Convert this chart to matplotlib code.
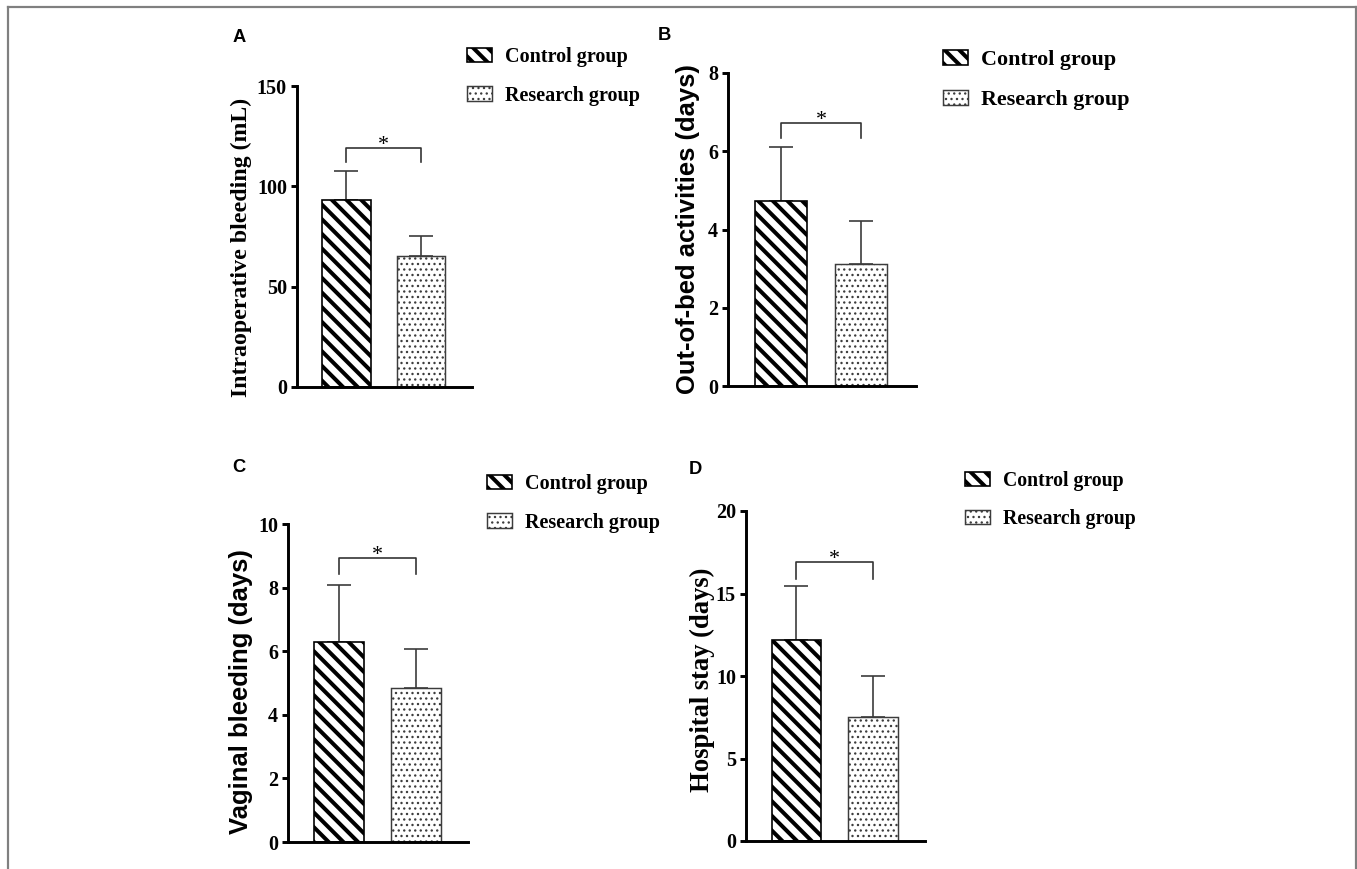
import matplotlib
matplotlib.use("Agg")
import matplotlib.pyplot as plt
from matplotlib.lines import Line2D

W, H = 1357, 869
DPI = 132

SERIF = "Liberation Serif"
SANS = "Liberation Sans"

groups = ["Control group", "Research group"]
hatches = ["\\\\\\", "...."]
hatch_widths = [2.2, 0.7]

# mean and SD per group
bleeding_mean = [93.2, 65.3]
bleeding_sd = [14.4, 9.9]
activity_mean = [4.73, 3.12]
activity_sd = [1.38, 1.10]
vaginal_mean = [6.29, 4.84]
vaginal_sd = [1.79, 1.23]
stay_mean = [12.18, 7.52]
stay_sd = [3.27, 2.48]

# significance bracket height and leg bottoms
bleeding_sig = [119, 112]
activity_sig = [6.72, 6.34]
vaginal_sig = [8.93, 8.43]
stay_sig = [16.9, 15.9]


def px_box(left, top, right, bottom):
    return [left / W, 1 - bottom / H, (right - left) / W, (bottom - top) / H]


def draw_panel(fig, box, means, sds, ymax, step, sig, ylabel, label_font,
               label_size, label_xy, letter, letter_xy, legend_xy, legend_size):
    ax = fig.add_axes(px_box(*box))
    x = [1, 2]

    with plt.rc_context({"hatch.linewidth": hatch_widths[0]}):
        ax.bar(x[0], means[0], 0.65, color="white", edgecolor="black",
               linewidth=0.9, hatch=hatches[0], label=groups[0], zorder=2)
    with plt.rc_context({"hatch.linewidth": hatch_widths[1]}):
        ax.bar(x[1], means[1], 0.65, color="white", edgecolor="#3c3c3c",
               linewidth=0.8, hatch=hatches[1], label=groups[1], zorder=2)

    # upper error bars only
    ax.errorbar(x, means, yerr=[[0, 0], sds], fmt="none", ecolor="#3a3a3a",
                elinewidth=0.9, capsize=6.3, capthick=0.9, zorder=1)

    # significance bracket
    ax.plot([1, 1, 2, 2], [sig[1], sig[0], sig[0], sig[1]],
            color="#333333", lw=0.9, clip_on=False)
    ax.annotate("*", xy=(1.5, sig[0]), xytext=(0, -1), textcoords="offset points",
                ha="center", va="baseline", fontfamily=SERIF, fontsize=12)

    ax.set_xlim(0.34, 2.68)
    ax.set_ylim(0, ymax)
    ax.set_yticks(range(0, ymax + 1, step))
    ax.set_xticks([])
    for side in ["top", "right"]:
        ax.spines[side].set_visible(False)
    for side in ["left", "bottom"]:
        ax.spines[side].set_linewidth(1.6)
    ax.tick_params(axis="y", length=3.5, width=1.6, pad=2)
    for lbl in ax.get_yticklabels():
        lbl.set_fontfamily(SERIF)
        lbl.set_fontweight("bold")
        lbl.set_fontsize(11)

    fig.text(label_xy[0] / W, 1 - label_xy[1] / H, ylabel, rotation=90,
             ha="center", va="center", fontfamily=label_font,
             fontweight="bold", fontsize=label_size)
    fig.text(letter_xy[0] / W, 1 - letter_xy[1] / H, letter, ha="center",
             va="center", fontfamily=SANS, fontweight="bold", fontsize=10)

    fs_px = legend_size * DPI / 72
    leg = ax.legend(loc="upper left", bbox_to_anchor=(legend_xy[0] / W, 1 - legend_xy[1] / H),
                    bbox_transform=fig.transFigure, frameon=False, borderpad=0,
                    borderaxespad=0, handlelength=25 / fs_px, handleheight=14 / fs_px,
                    handletextpad=13 / fs_px, labelspacing=0.92,
                    prop={"family": SERIF, "weight": "bold", "size": legend_size})
    # legend keys get the same stripe/dot weight as the bars
    for handle, lw in zip(leg.legend_handles, hatch_widths):
        if hasattr(handle, "set_hatch_linewidth"):
            handle.set_hatch_linewidth(lw)
    return ax


fig = plt.figure(figsize=(W / DPI, H / DPI), dpi=DPI)

draw_panel(fig, (297, 86, 472, 387), bleeding_mean, bleeding_sd, 150, 50,
           bleeding_sig, "Intraoperative bleeding (mL)", SERIF, 13, (241, 247),
           "A", (239, 38), (467, 47), 11)
draw_panel(fig, (728, 73, 916, 386), activity_mean, activity_sd, 8, 2,
           activity_sig, "Out-of-bed activities (days)", SANS, 14, (688, 229),
           "B", (664, 36), (943, 50), 12)
draw_panel(fig, (288, 524, 468, 842), vaginal_mean, vaginal_sd, 10, 2,
           vaginal_sig, "Vaginal bleeding (days)", SANS, 14, (241, 692),
           "C", (239, 468), (487, 474), 11)
draw_panel(fig, (746, 511, 925, 841), stay_mean, stay_sd, 20, 5,
           stay_sig, "Hospital stay (days)", SERIF, 14.5, (702, 680),
           "D", (695, 469), (965, 471), 10.8)

# thin grey frame around the figure
frame = dict(color="#808080", lw=1.2)
fig.add_artist(Line2D([7.5 / W, 7.5 / W], [0, 1 - 6.5 / H], **frame))
fig.add_artist(Line2D([7.5 / W, 1355.5 / W], [1 - 6.5 / H, 1 - 6.5 / H], **frame))
fig.add_artist(Line2D([1355.5 / W, 1355.5 / W], [0, 1 - 6.5 / H], **frame))

fig.savefig("out.png", dpi=DPI, facecolor="white")
